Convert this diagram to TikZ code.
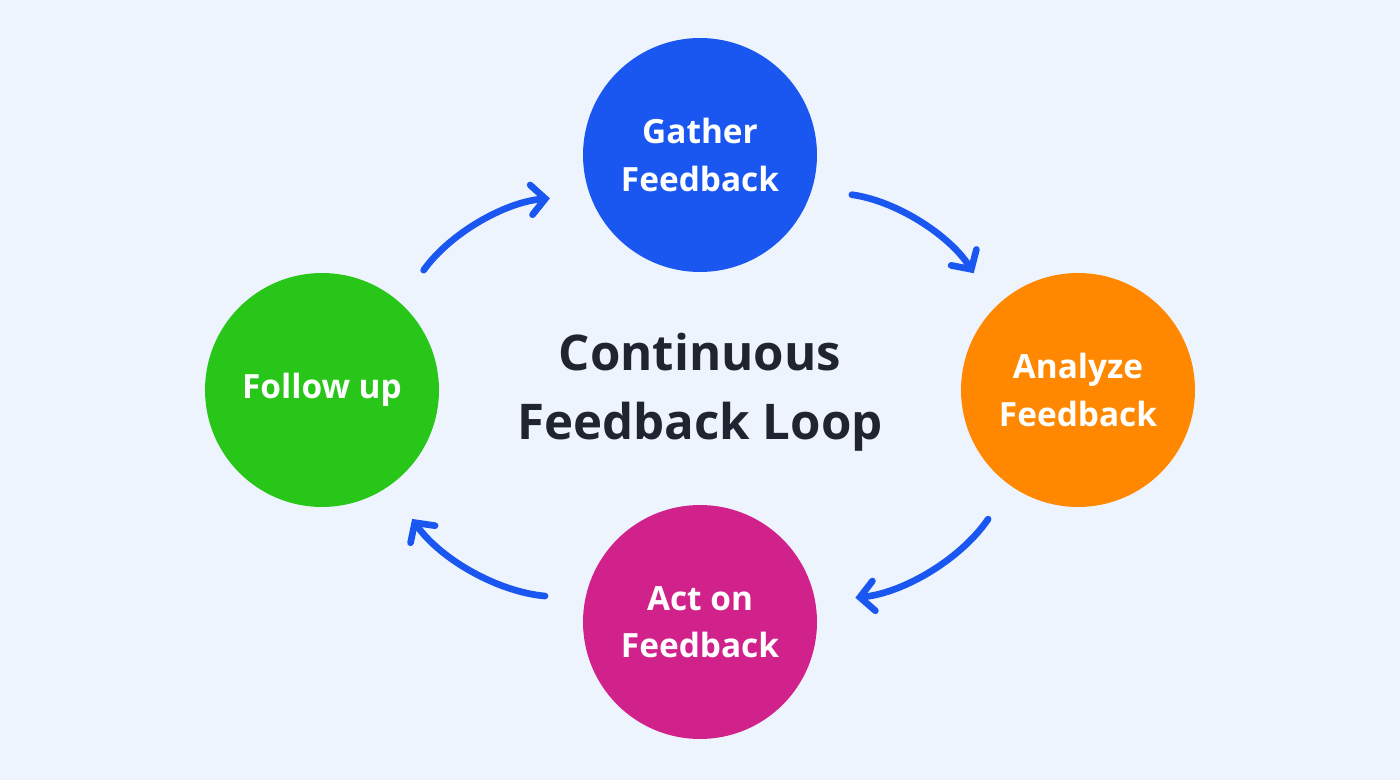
\documentclass[tikz,border=0pt]{standalone}
\usepackage{fontspec}
\setmainfont{Open Sans}
\usetikzlibrary{arrows.meta}
\definecolor{bgc}{HTML}{EEF4FD}
\definecolor{gblue}{HTML}{1A56F0}
\definecolor{aorange}{HTML}{FF8800}
\definecolor{cmag}{HTML}{D0228A}
\definecolor{fgreen}{HTML}{28C618}
\definecolor{ttext}{HTML}{1F2430}
\begin{document}
\begin{tikzpicture}[x=0.02cm,y=-0.02cm]
\tikzset{stage/.style={circle,minimum size=4.68cm,inner sep=0pt,text=white,align=center,
  font=\fontsize{19}{27}\selectfont\bfseries},
  cyc/.style={gblue,line width=3.8pt,line cap=round,shorten <=0.8cm,shorten >=0.8cm,
  -{Straight Barb[length=8pt,width=17pt,line cap=round]}}}
\fill [bgc] (0,0) rectangle (1400,780);
\node [stage,fill=gblue] (g) at (700,155) {Gather\\Feedback};
\node [stage,fill=aorange] (a) at (1078,390) {Analyze\\Feedback};
\node [stage,fill=cmag] (c) at (700,622) {Act on\\Feedback};
\node [stage,fill=fgreen] (f) at (322,390) {Follow up};
\node [text=ttext,align=center,font=\fontsize{28}{39}\selectfont\bfseries] (t) at (700,392) {Continuous\\Feedback Loop};
\draw [cyc] (f.48) to[bend left=25] (g.200);
\draw [cyc] (g.-17) to[bend left=25] (a.135);
\draw [cyc] (a.235) to[bend left=25] (c.10);
\draw [cyc] (c.169) to[bend left=25] (f.-55);
\end{tikzpicture}
\end{document}
